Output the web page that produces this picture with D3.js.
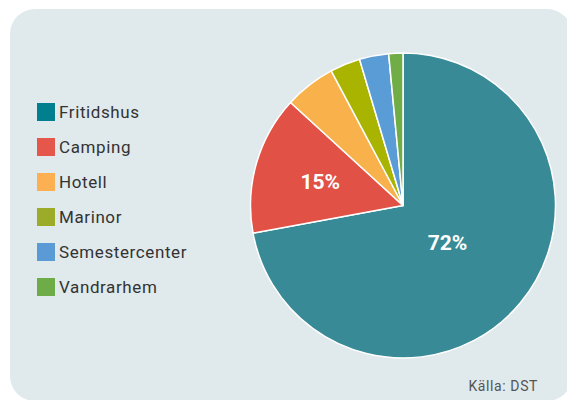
<!DOCTYPE html>
<html>
<head>
<meta charset="utf-8">
<script src="https://cdn.jsdelivr.net/npm/d3@7"></script>
<style>
  body { margin: 0; background: #fff; }
  svg { display: block; font-family: Roboto, "Open Sans", sans-serif; }
</style>
</head>
<body>
<svg width="567" height="400"></svg>
<script>
// Data: share of overnight stays by accommodation type
const categories = ["Fritidshus", "Camping", "Hotell", "Marinor", "Semestercenter", "Vandrarhem"];
const values = [72.1, 14.7, 5.4, 3.2, 3.1, 1.5];
const sliceColors = ["#388b96", "#e15146", "#f9b24b", "#a8b400", "#5a9cd6", "#70ad47"];
const legendColors = ["#00808e", "#e5574b", "#fdb052", "#9dac28", "#5b9bd5", "#6dac46"];
const labels = ["72%", "15%", "", "", "", ""];
const source = "Källa: DST";

const svg = d3.select("svg");

// panel background
svg.append("rect")
   .attr("x", 10).attr("y", 9)
   .attr("width", 562).attr("height", 392)
   .attr("rx", 25)
   .attr("fill", "#e0e9ec");

const cx = 403, cy = 205.5, radius = 152.5;

const data = categories.map((c, i) => ({ name: c, value: values[i], label: labels[i] }));

const pie = d3.pie()
              .sort(null)
              .value(d => d.value);

const arc = d3.arc()
              .innerRadius(0)
              .outerRadius(radius);

const g = svg.append("g")
             .attr("transform", `translate(${cx},${cy})`);

const arcs = pie(data);

g.selectAll("path")
 .data(arcs)
 .join("path")
 .attr("d", arc)
 .attr("fill", (d, i) => sliceColors[i])
 .attr("stroke", "#fff")
 .attr("stroke-width", 1.5)
 .attr("stroke-linejoin", "round");

// percentage labels inside the two big slices
const labelRadius = { "Fritidshus": 58, "Camping": 86 };
g.selectAll("text.pct")
 .data(arcs.filter(d => d.data.label))
 .join("text")
 .attr("class", "pct")
 .attr("transform", d => {
   const r = labelRadius[d.data.name];
   const [x, y] = d3.arc().innerRadius(r).outerRadius(r).centroid(d);
   return `translate(${x},${y})`;
 })
 .attr("text-anchor", "middle")
 .attr("dy", "0.36em")
 .attr("fill", "#fff")
 .attr("font-weight", "bold")
 .attr("font-size", 21)
 .text(d => d.data.label);

// legend
const legendY = d3.scalePoint()
                  .domain(categories)
                  .range([112, 287]);

const legend = svg.append("g");
const items = legend.selectAll("g")
                    .data(categories)
                    .join("g")
                    .attr("transform", d => `translate(37,${legendY(d)})`);

items.append("rect")
     .attr("x", 0).attr("y", -9)
     .attr("width", 18).attr("height", 18)
     .attr("fill", (d, i) => legendColors[i]);

items.append("text")
     .attr("x", 22)
     .attr("y", 0)
     .attr("dy", "0.36em")
     .attr("font-size", 17)
     .attr("letter-spacing", 0.6)
     .attr("fill", "#333")
     .text(d => d);

// source
svg.append("text")
   .attr("x", 538)
   .attr("y", 391)
   .attr("text-anchor", "end")
   .attr("font-size", 14)
   .attr("letter-spacing", 0.6)
   .attr("fill", "#555")
   .text(source);
</script>
</body>
</html>
